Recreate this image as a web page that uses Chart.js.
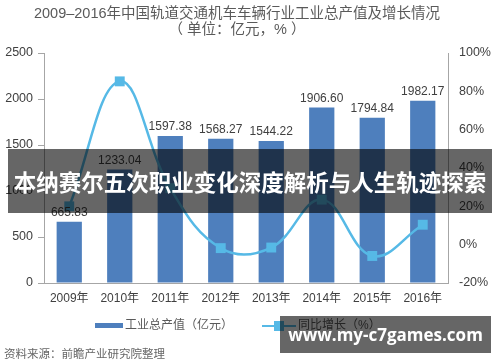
<!DOCTYPE html>
<html>
<head>
<meta charset="utf-8">
<script src="https://cdn.jsdelivr.net/npm/chart.js@4.4.1/dist/chart.umd.min.js"></script>
<style>
  html, body { margin: 0; padding: 0; background: #fff; }
  #wrap { position: relative; width: 500px; height: 362px; font-family: "Liberation Sans", "Noto Sans CJK SC", sans-serif; }
  canvas { position: absolute; left: 0; top: 0; }
  .title { position: absolute; left: 0; width: 474px; text-align: center; color: #5a5a5a; font-size: 14.5px; line-height: 16px; }
  .legend { position: absolute; top: 317px; font-size: 12px; color: #5a5a5a; line-height: 16px; white-space: nowrap; }
  .source { position: absolute; left: 4px; top: 345px; font-size: 11.5px; color: #666; }
  .banner { position: absolute; left: 8px; top: 149px; width: 484px; height: 64px; background: rgba(0,0,0,0.6); color: #fff;
            font-family: "Noto Sans CJK SC", sans-serif; font-weight: bold; font-size: 22.5px; line-height: 64px; text-align: center; }
  .site { position: absolute; left: 280px; top: 316px; width: 211px; height: 37px; background: rgba(0,0,0,0.6); color: #fff;
          font-family: "Open Sans", sans-serif; font-weight: bold; font-size: 17px; line-height: 37px; text-align: center; }
</style>
</head>
<body>
<div id="wrap">
  <canvas id="chart" width="500" height="362"></canvas>
  <div class="title" style="top:5px">2009–2016年中国轨道交通机车车辆行业工业总产值及增长情况</div>
  <div class="title" style="top:21px">（ 单位：亿元，% ）</div>
  <div class="legend" style="left:95px"><span style="display:inline-block;width:28px;height:5px;background:#4e7fbd;vertical-align:middle;margin-right:2px"></span>工业总产值（亿元）</div>
  <div class="legend" style="left:262px"><span style="display:inline-block;position:relative;width:34px;height:2px;background:#56b9e6;vertical-align:middle;margin-right:2px"><span style="position:absolute;left:12px;top:-4px;width:10px;height:10px;background:#56b9e6"></span></span>同比增长（%）</div>
  <div class="source">资料来源：前瞻产业研究院整理</div>
  <div class="banner">本纳赛尔五次职业变化深度解析与人生轨迹探索</div>
  <div class="site">www.my-c7games.com</div>
</div>
<script>
// 数据
const years = ['2009年', '2010年', '2011年', '2012年', '2013年', '2014年', '2015年', '2016年'];
const output = [665.83, 1233.04, 1597.38, 1568.27, 1544.22, 1906.60, 1794.84, 1982.17]; // 工业总产值（亿元）
const growth = [20, 85.2, 29.5, -1.8, -1.5, 23.5, -5.9, 10.4]; // 同比增长（%）

const barColor = '#4e7fbd';
const lineColor = '#56b9e6';

// 柱子上方的数值
const barLabels = {
  id: 'barLabels',
  afterDatasetsDraw(chart) {
    const ctx = chart.ctx;
    const meta = chart.getDatasetMeta(1); // 柱状图是第二个数据集
    ctx.save();
    ctx.font = '12px "Liberation Sans", sans-serif';
    ctx.fillStyle = '#404040';
    ctx.textAlign = 'center';
    ctx.textBaseline = 'bottom';
    meta.data.forEach((bar, i) => {
      ctx.fillText(output[i].toFixed(2), bar.x, bar.y - 3);
    });
    ctx.restore();
  }
};

new Chart(document.getElementById('chart'), {
  data: {
    labels: years,
    datasets: [
      {
        type: 'line',
        label: '同比增长（%）',
        data: growth,
        yAxisID: 'y1',
        borderColor: lineColor,
        backgroundColor: lineColor,
        borderWidth: 2.5,
        tension: 0.4,
        pointStyle: 'rect',
        pointRadius: 7,
        pointBorderWidth: 0,
        order: 0
      },
      {
        type: 'bar',
        label: '工业总产值（亿元）',
        data: output,
        yAxisID: 'y',
        backgroundColor: barColor,
        categoryPercentage: 1,
        barPercentage: 0.5,
        order: 1
      }
    ]
  },
  options: {
    responsive: false,
    animation: false,
    layout: { padding: { top: 53, bottom: 55, left: 0, right: 0 } },
    plugins: { legend: { display: false }, title: { display: false }, tooltip: { enabled: false } },
    scales: {
      x: {
        grid: { display: false, drawTicks: false },
        border: { color: '#a6a6a6', width: 1 },
        ticks: { color: '#404040', font: { size: 12, family: '"Liberation Sans", "Noto Sans CJK SC", sans-serif' }, padding: 8, maxRotation: 0 },
        afterFit(s) { s.height = 24; }
      },
      y: {
        position: 'left',
        min: 0, max: 2500,
        ticks: { stepSize: 500, color: '#404040', padding: 5, font: { size: 12.5, family: '"Liberation Sans", sans-serif' },
                 callback: v => String(v) },
        grid: { drawOnChartArea: false, tickLength: 6, color: '#a6a6a6' },
        border: { color: '#a6a6a6', width: 1 },
        afterFit(s) { s.width = 44; }
      },
      y1: {
        position: 'right',
        min: -20, max: 100,
        ticks: { stepSize: 20, color: '#404040', padding: 11, font: { size: 12.5, family: '"Liberation Sans", sans-serif' },
                 callback: v => v + '%' },
        grid: { drawOnChartArea: false, drawTicks: false },
        border: { color: '#a6a6a6', width: 1 },
        afterFit(s) { s.width = 52; }
      }
    }
  },
  plugins: [barLabels]
});
</script>
</body>
</html>
